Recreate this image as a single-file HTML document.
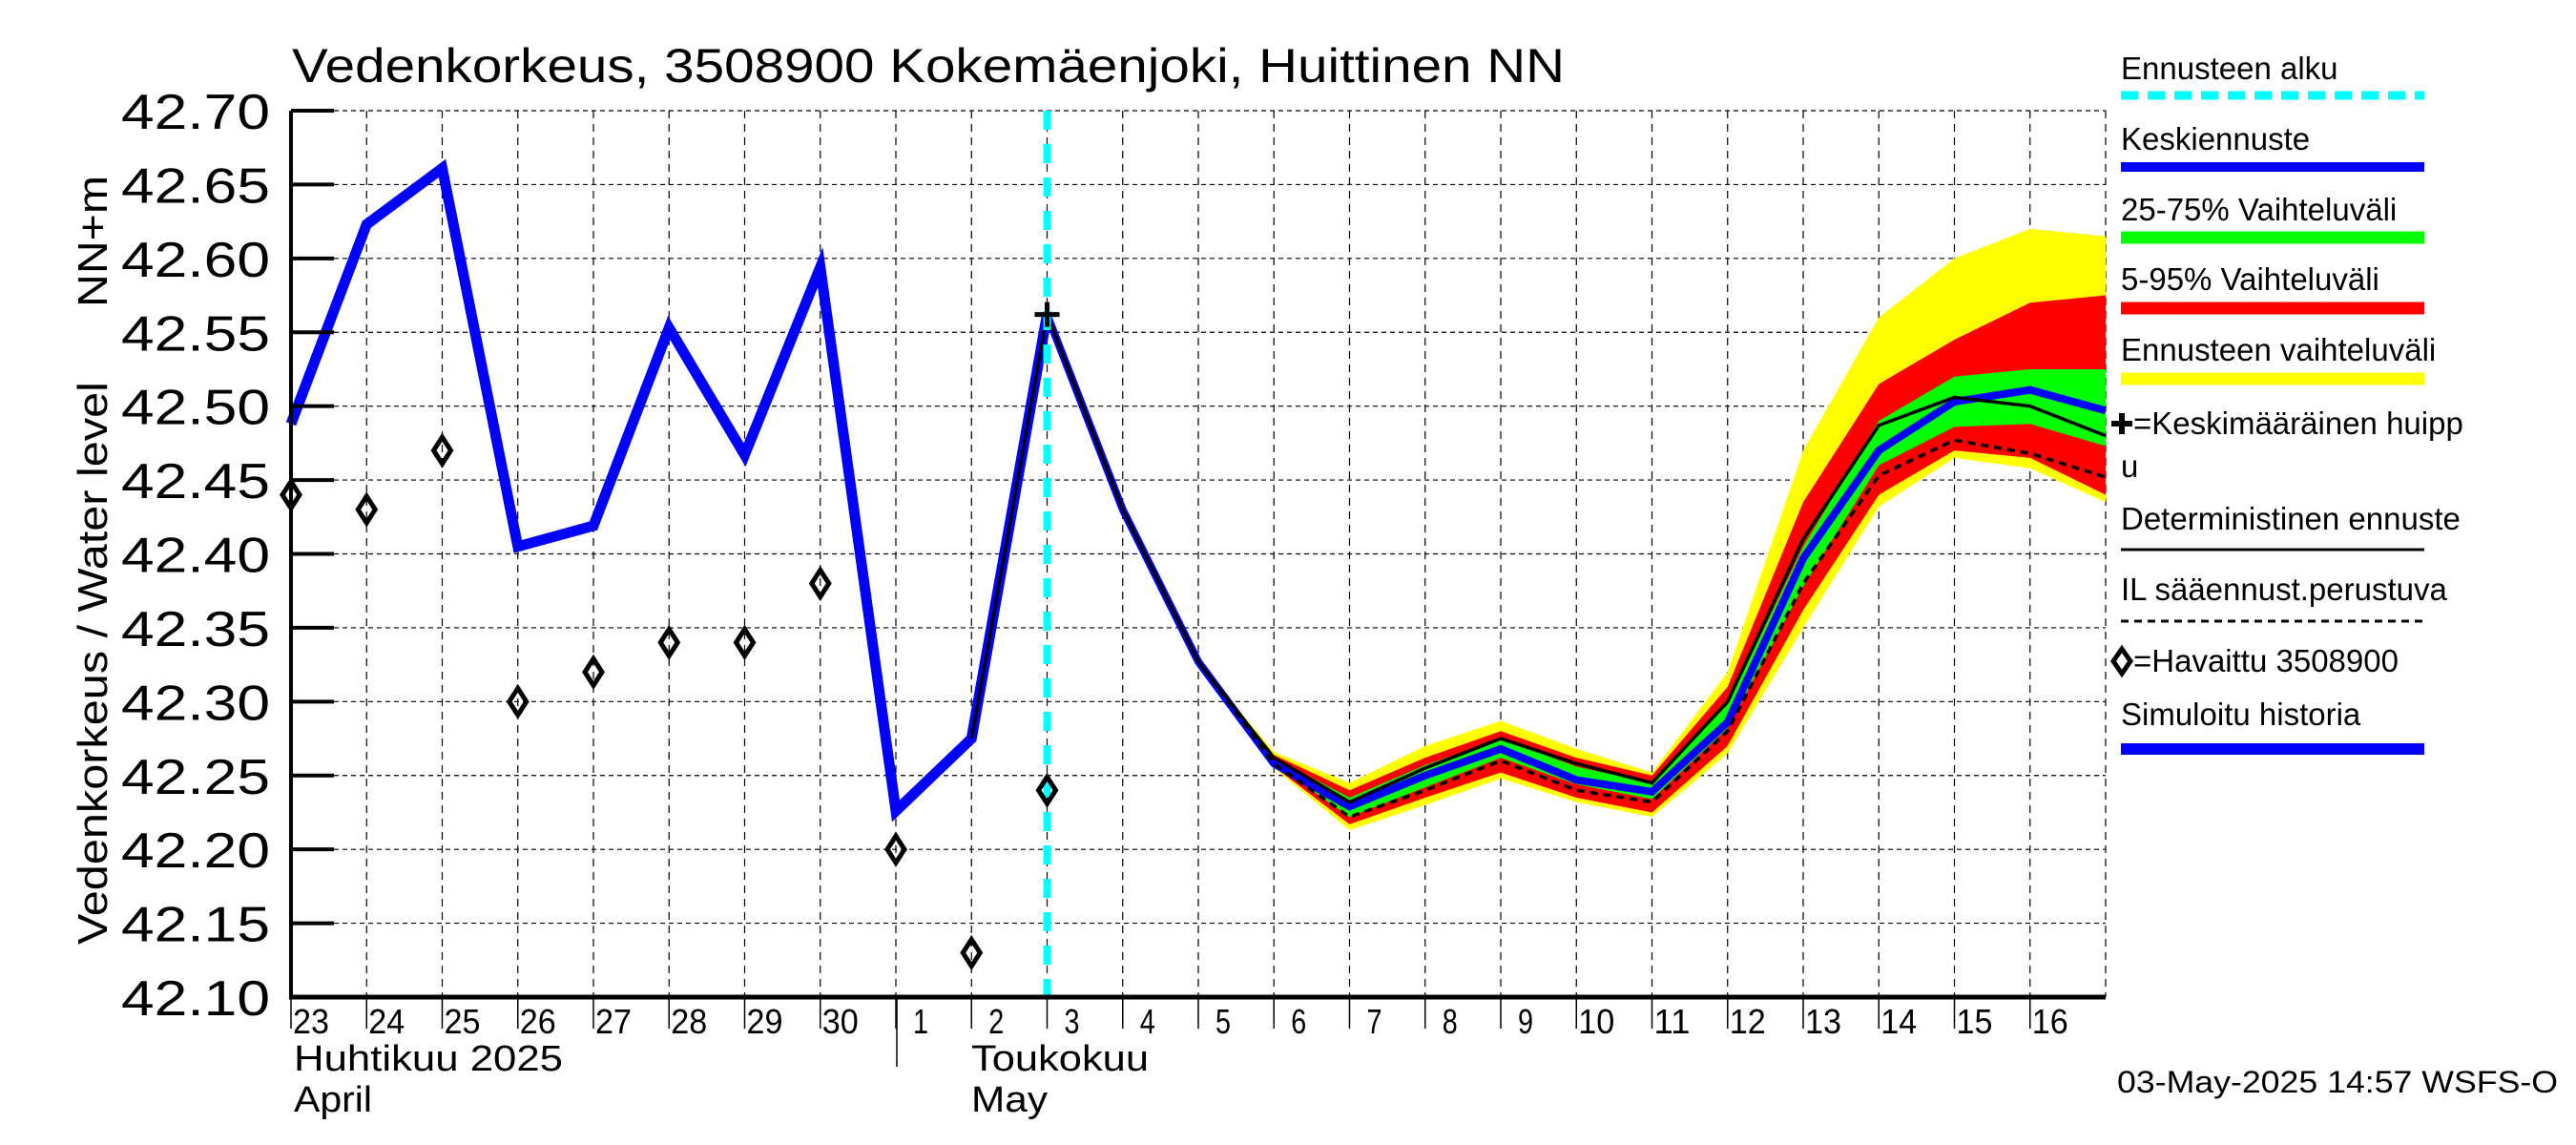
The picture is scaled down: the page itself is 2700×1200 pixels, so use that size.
<!DOCTYPE html>
<html><head><meta charset="utf-8">
<style>
html,body{margin:0;padding:0;background:#fff;}
svg{display:block;font-family:"Liberation Sans",sans-serif;}
</style></head>
<body>
<svg id="chart" width="2700" height="1200" viewBox="0 0 2700 1200" xmlns="http://www.w3.org/2000/svg">
<text x="306" y="86" font-size="50" textLength="1334" lengthAdjust="spacingAndGlyphs">Vedenkorkeus, 3508900 Kokemäenjoki, Huittinen NN</text>
<text transform="translate(112,990) rotate(-90)" font-size="44" textLength="590" lengthAdjust="spacingAndGlyphs">Vedenkorkeus / Water level</text>
<text transform="translate(112,322) rotate(-90)" font-size="44" textLength="138" lengthAdjust="spacingAndGlyphs">NN+m</text>
<g id="grid"></g>
<g id="bands"></g>
<g id="lines"></g>
<g id="axes"></g>
<text x="308" y="1122" font-size="38" textLength="282" lengthAdjust="spacingAndGlyphs">Huhtikuu  2025</text>
<text x="308" y="1165" font-size="38" textLength="82" lengthAdjust="spacingAndGlyphs">April</text>
<text x="1018" y="1122" font-size="38" textLength="186" lengthAdjust="spacingAndGlyphs">Toukokuu</text>
<text x="1018" y="1165" font-size="38" textLength="80" lengthAdjust="spacingAndGlyphs">May</text>
<line x1="940" y1="1045" x2="940" y2="1118" stroke="#000" stroke-width="1.5"/>
<text x="2681" y="1145" font-size="32" text-anchor="end" textLength="462" lengthAdjust="spacingAndGlyphs">03-May-2025 14:57 WSFS-O</text>
<g id="legend"></g>
</svg>
<script>
const days = ["23","24","25","26","27","28","29","30","1","2","3","4","5","6","7","8","9","10","11","12","13","14","15","16"];
const yTicks = [42.10,42.15,42.20,42.25,42.30,42.35,42.40,42.45,42.50,42.55,42.60,42.65,42.70];
const simulated = [42.488,42.623,42.661,42.405,42.419,42.553,42.467,42.594,42.226,42.275,42.562,42.43,42.327,42.258,42.229,42.25,42.268,42.247,42.239,42.286,42.397,42.47,42.503,42.511,42.497];
const observed = [42.44,42.43,42.47,42.30,42.32,42.34,42.34,42.38,42.20,42.13,42.24];
const deterministic = [null,null,null,null,null,null,null,null,null,42.275,42.562,42.43,42.327,42.262,42.232,42.255,42.275,42.258,42.245,42.30,42.41,42.487,42.506,42.50,42.48];
const ilForecast = [null,null,null,null,null,null,null,null,null,null,42.562,42.43,42.327,42.258,42.222,42.24,42.26,42.24,42.232,42.28,42.38,42.453,42.477,42.468,42.452];
const yellowHi = [42.562,42.43,42.327,42.266,42.245,42.27,42.287,42.268,42.252,42.32,42.47,42.56,42.60,42.62,42.615];
const yellowLo = [42.562,42.43,42.327,42.255,42.213,42.23,42.248,42.232,42.222,42.265,42.35,42.432,42.465,42.458,42.435];
const redHi = [42.562,42.43,42.327,42.264,42.24,42.262,42.28,42.262,42.25,42.31,42.435,42.515,42.545,42.57,42.575];
const redLo = [42.562,42.43,42.327,42.256,42.217,42.235,42.252,42.235,42.225,42.27,42.362,42.44,42.47,42.465,42.44];
const greenHi = [42.562,42.43,42.327,42.262,42.235,42.257,42.275,42.256,42.245,42.298,42.405,42.49,42.52,42.525,42.525];
const greenLo = [42.562,42.43,42.327,42.258,42.222,42.242,42.262,42.244,42.234,42.282,42.378,42.46,42.486,42.488,42.473];
const bandStart = 10;
const forecastStart = 10;
const peakIndex = 10, peakValue = 42.562;

const NS="http://www.w3.org/2000/svg";
const X0=305, X1=2207, Y0=1045, Y1=116, VMIN=42.10, VMAX=42.70, NDAYS=24;
const xs = i => X0 + (X1-X0)*i/NDAYS;
const ys = v => Y0 - (Y0-Y1)*(v-VMIN)/(VMAX-VMIN);
function mk(parent, tag, attrs){const e=document.createElementNS(NS,tag);for(const k in attrs)e.setAttribute(k,attrs[k]);document.getElementById(parent).appendChild(e);return e;}

yTicks.forEach((v,i)=>{
  const e=mk('grid','line',{x1:X0,x2:X1,y1:ys(v),y2:ys(v),stroke:'#000','stroke-width':1.2,'stroke-dasharray':'5,4'});
  
  
});
for(let i=1;i<=NDAYS;i++){
  const e=mk('grid','line',{x1:xs(i),x2:xs(i),y1:Y1,y2:Y0,stroke:'#000','stroke-width':1.2,'stroke-dasharray':'8,6'});
  
  
}
function band(hi,lo,color,name){
  let pts=[];
  hi.forEach((v,i)=>pts.push(xs(bandStart+i)+','+ys(v)));
  for(let i=lo.length-1;i>=0;i--)pts.push(xs(bandStart+i)+','+ys(lo[i]));
  const e=mk('bands','polygon',{points:pts.join(' '),fill:color});
  
  
}
band(yellowHi,yellowLo,'#ffff00','band-forecast-range');
band(redHi,redLo,'#ff0000','band-5-95');
band(greenHi,greenLo,'#00ff00','band-25-75');

function path(arr,from,to){let p=[];for(let i=from;i<=to;i++){if(arr[i]!=null)p.push(xs(i)+','+ys(arr[i]));}return p.join(' ');}
let e;
e=mk('lines','polyline',{points:path(simulated,0,forecastStart),fill:'none',stroke:'#0000ff','stroke-width':11,'stroke-linejoin':'miter'});


e=mk('lines','polyline',{points:path(simulated,forecastStart,simulated.length-1),fill:'none',stroke:'#0000ff','stroke-width':8});


e=mk('lines','polyline',{points:path(deterministic,0,deterministic.length-1),fill:'none',stroke:'#000','stroke-width':3.5});


e=mk('lines','polyline',{points:path(ilForecast,0,ilForecast.length-1),fill:'none',stroke:'#000','stroke-width':3.5,'stroke-dasharray':'8,6'});


e=mk('lines','line',{x1:xs(forecastStart),x2:xs(forecastStart),y1:Y1,y2:Y0,stroke:'#00ffff','stroke-width':8,'stroke-dasharray':'20,15'});


observed.forEach((v,i)=>{
  const x=xs(i),y=ys(v);
  const d=mk('lines','polygon',{points:`${x},${y-14} ${x+9},${y} ${x},${y+14} ${x-9},${y}`,fill:'none',stroke:'#000','stroke-width':5});
  
  
});
{const x=xs(peakIndex),y=ys(peakValue);
 e=mk('lines','path',{d:`M${x-13},${y}H${x+13}M${x},${y-13}V${y+13}`,stroke:'#000','stroke-width':5});
 
 }
e=mk('axes','line',{x1:X0,x2:X0,y1:Y1,y2:Y0+2,stroke:'#000','stroke-width':4});


e=mk('axes','line',{x1:X0-2,x2:X1,y1:Y0,y2:Y0,stroke:'#000','stroke-width':5});


yTicks.forEach(v=>{
  const t=mk('axes','line',{x1:X0,x2:X0+45,y1:ys(v),y2:ys(v),stroke:'#000','stroke-width':4});
  
  
  const l=mk('axes','text',{x:X0-22,y:ys(v)+19,'font-size':52,'text-anchor':'end',textLength:156,lengthAdjust:'spacingAndGlyphs'});
  l.textContent=v.toFixed(2);
  
  
});
days.forEach((d,i)=>{
  const t=mk('axes','line',{x1:xs(i),x2:xs(i),y1:Y0,y2:Y0+33,stroke:'#000','stroke-width':1.5});
  
  
  const l=mk('axes','text',{x:xs(i)+(d.length>1?21:26),y:Y0+38,'font-size':36,'text-anchor':'middle',textLength:d.length>1?38:16,lengthAdjust:'spacingAndGlyphs'});
  l.textContent=d;
  
  
});
const LX=2223, LX2=2541;
const legendItems=[
 ['Ennusteen alku',83,100,'#00ffff',9,'18,10','legend-forecast-start'],
 ['Keskiennuste',157,175,'#0000ff',10,null,'legend-mean-forecast'],
 ['25-75% Vaihteluväli',231,249,'#00ff00',13,null,'legend-25-75'],
 ['5-95% Vaihteluväli',304,323,'#ff0000',13,null,'legend-5-95'],
 ['Ennusteen vaihteluväli',378,397,'#ffff00',13,null,'legend-forecast-range'],
 ['Deterministinen ennuste',555,576,'#000',3,null,'legend-deterministic'],
 ['IL sääennust.perustuva',629,651,'#000',3,'8,6','legend-il-forecast'],
 ['Simuloitu historia',760,785,'#0000ff',12,null,'legend-simulated']
];
legendItems.forEach(it=>{
  const t=mk('legend','text',{x:LX,y:it[1],'font-size':33});
  t.textContent=it[0];
  
  
  const a={x1:LX,x2:LX2,y1:it[2],y2:it[2],stroke:it[3],'stroke-width':it[4]};
  if(it[5])a['stroke-dasharray']=it[5];
  const l=mk('legend','line',a);
  
  
});
{
 let t=mk('legend','text',{x:2236,y:455,'font-size':33});t.textContent='=Keskimääräinen huipp';
 
 
 t=mk('legend','text',{x:2223,y:500,'font-size':33});t.textContent='u';
 
 
 const c=mk('legend','path',{d:'M2213,444H2235M2224,433V455',stroke:'#000','stroke-width':6});
 
 
 t=mk('legend','text',{x:2236,y:704,'font-size':33});t.textContent='=Havaittu 3508900';
 
 
 const dm=mk('legend','polygon',{points:'2224,680 2233,693 2224,706 2215,693',fill:'none',stroke:'#000','stroke-width':5});
 
 
}
</script>
</body></html>
